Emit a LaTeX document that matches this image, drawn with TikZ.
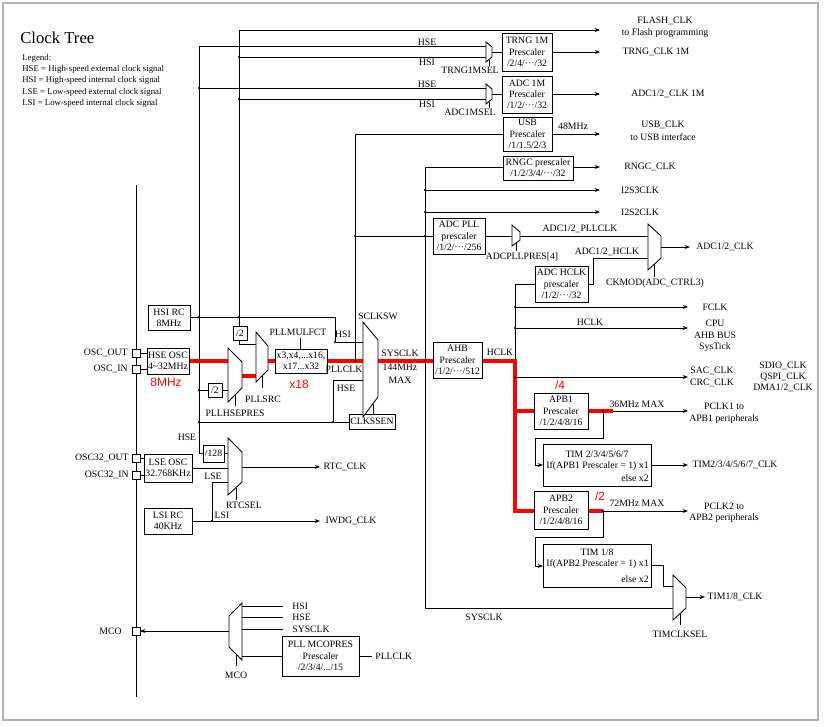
\documentclass[tikz,border=0pt]{standalone}
\usepackage{fontspec}
\setmainfont{Liberation Serif}
\newfontfamily\sansf{Liberation Sans}
\usetikzlibrary{arrows.meta}
\newcommand\fs{\fontsize{7.3}{8.4}\selectfont}
\newcommand\Bx[6]{\node[box,minimum width={(#4-#2)*0.75pt},minimum height={(#5-#3)*0.75pt}] (#1) at ({(#2+#4)/2},{(#3+#5)/2}) {#6};}
\newcommand\Mx[7]{\draw[mux] (#2,#3)--(#5,#6)--(#5,#7)--(#2,#4)--cycle; \coordinate (#1) at ({(#2+#5)/2},{(#3+#4)/2});}
\newcommand\Lb[3][]{\node[lbl,#1] at (#2) {#3};}
\begin{document}
\begin{tikzpicture}[x=0.75pt,y=-0.75pt,line width=0.55pt,
 box/.style={draw,line width=0.65pt,align=center,inner sep=0pt,font=\fs,fill=white},
 lbl/.style={font=\fs,inner sep=0pt,align=center},
 mux/.style={draw,line width=0.65pt,fill=white},
 arr/.style={-{Stealth[length=4pt,width=3pt]}},
 rd/.style={line width=3pt,red},
 rl/.style={font=\sansf\fontsize{9}{10}\selectfont,text=red,inner sep=0pt},
 dot/.style={circle,fill,inner sep=0pt,minimum size=1.8pt},
 pin/.style={draw,line width=0.65pt,fill=white,minimum size=6pt,inner sep=0pt}]
\useasboundingbox (0,0) rectangle (830,726);
\draw[gray!60,line width=1.5pt] (3,3) rectangle (818,720);
\node[anchor=west,font=\fontsize{12.5}{14}\selectfont,inner sep=0] (title) at (20,38) {Clock Tree};
\foreach \t/\y in {Legend:/58,HSE = High-speed external clock signal/69,HSI = High-speed internal clock signal/80,LSE = Low-speed external clock signal/92,LSI = Low-speed internal clock signal/103}
 \node[anchor=west,font=\fontsize{6.6}{7}\selectfont,inner sep=0] at (22,\y) {\t};
% pin bus
\draw (136,185)--(136,697);
\draw (136,353)--(147,353) (136,369)--(147,369) (136,458)--(144,458) (136,475)--(144,475);
% wires
\draw (199,46)--(199,453)--(203,453);
\draw (199,46)--(486,46) (199,88)--(486,88);
\draw[arr] (239,30)--(600,30);
\draw (239,30)--(239,326);
\draw (239,57)--(486,57) (239,99)--(486,99);
\draw (190,317)--(335,317)--(335,342)--(363,342);
\draw (355,134)--(503,134) (355,134)--(355,361) (355,236)--(433,236);
\draw (425,167)--(503,167) (425,167)--(425,608)--(673,608);
\draw[arr] (425,190)--(600,190);
\draw[arr] (425,212)--(600,212);
\draw (199,390)--(208,390) (222,390)--(228,390);
\draw (239,340)--(239,344)--(256,344);
\draw (300,338)--(300,349);
\draw (199,422)--(349,422) (333,422)--(333,380)--(363,380);
\draw (373,404)--(373,414);
\draw (235,395)--(235,406) (262,376)--(262,388) (236,488)--(236,500) (680,614)--(680,625)
      (654,264)--(654,277) (516,243)--(516,251) (489,60)--(489,66) (489,102)--(489,108) (236,653)--(236,666);
\draw (492,52)--(502,52) (492,94)--(502,94);
\draw[arr] (552,52)--(600,52);
\draw[arr] (552,94)--(600,94);
\draw[arr] (552,134)--(600,134);
\draw[arr] (573,167)--(600,167);
\draw (485,236)--(512,236) (520,236)--(648,236);
\draw (588,284)--(593,284)--(593,258)--(648,258);
\draw[arr] (661,247)--(690,247);
\draw (515,284)--(535,284) (515,284)--(515,361);
\draw[arr] (515,307)--(688,307);
\draw[arr] (515,328)--(688,328);
\draw[arr] (515,377)--(688,377);
\draw[arr] (613,411)--(688,411);
\draw[arr] (603,511)--(688,511);
\draw[arr] (603,411)--(603,438)--(535,438)--(535,465)--(543,465);
\draw[arr] (603,511)--(603,537)--(535,537)--(535,566)--(543,566);
\draw[arr] (651,465)--(688,465);
\draw (651,565)--(663,565)--(663,586)--(673,586);
\draw[arr] (686,597)--(705,597);
\draw (224,453)--(228,453) (192,468)--(228,468) (212,482)--(228,482) (212,482)--(212,521);
\draw[arr] (192,521)--(320,521);
\draw[arr] (242,467)--(320,467);
\draw[arr] (229,631)--(140,631);
\draw (242,606)--(283,606) (242,617)--(283,617) (242,629)--(283,629) (242,656)--(282,656) (359,656)--(372,656);
% red paths
\draw[rd] (189,361)--(228,361) (242,376)--(256,376) (268,361)--(275,361) (327,361)--(363,361) (378,361)--(433,361);
\draw[rd] (482,361)--(515,361)--(515,511)--(534,511) (515,411)--(534,411) (588,411)--(613,411) (588,511)--(603,511);
% dots
\foreach \p in {(199,317),(239,317),(239,57),(239,99),(199,88),(355,236),(425,236),(355,361),(425,361),(425,190),(425,212),(515,307),(515,328),(515,377),(603,411),(603,511),(333,422),(199,422),(199,390),(212,521),(335,342)}
 \node[dot] at \p {};
% pins
\node[pin] (osco) at (136,353) {};
\node[pin] (osci) at (136,369) {};
\node[pin] (o32o) at (136,458) {};
\node[pin] (o32i) at (136,475) {};
\node[pin] (mcop) at (136,631) {};
\Lb[anchor=east]{128,353}{OSC\_OUT}
\Lb[anchor=east]{128,369}{OSC\_IN}
\Lb[anchor=east]{129,458}{OSC32\_OUT}
\Lb[anchor=east]{129,475}{OSC32\_IN}
\Lb[anchor=east]{122,631}{MCO}
% boxes
\Bx{hsirc}{148}{305}{190}{330}{HSI RC\\8MHz}
\Bx{hseosc}{147}{348}{189}{374}{HSE OSC\\4\textasciitilde32MHz}
\Bx{lseosc}{144}{454}{192}{482}{LSE OSC\\32.768KHz}
\Bx{lsirc}{144}{508}{192}{534}{LSI RC\\40KHz}
\Bx{diva}{233}{326}{247}{340}{/2}
\Bx{divb}{208}{383}{222}{397}{/2}
\Bx{pll}{275}{349}{327}{373}{x3,x4,...x16,\\x17...x32}
\Bx{clkssen}{349}{414}{395}{429}{CLKSSEN}
\Bx{div128}{203}{445}{224}{462}{/128}
\Bx{mcopres}{282}{636}{359}{676}{PLL MCOPRES\\Prescaler\\/2/3/4/.../15}
\Bx{trng}{502}{33}{552}{71}{TRNG 1M\\Prescaler\\/2/4/···/32}
\Bx{adc1m}{502}{76}{552}{113}{ADC 1M\\Prescaler\\/1/2/···/32}
\Bx{usb}{503}{117}{552}{151}{USB\\Prescaler\\/1/1.5/2/3}
\Bx{rngc}{503}{156}{573}{180}{RNGC prescaler\\/1/2/3/4/···/32}
\Bx{adcpll}{433}{218}{485}{254}{ADC PLL\\prescaler\\/1/2/···/256}
\Bx{adchclk}{535}{266}{588}{302}{ADC HCLK\\prescaler\\/1/2/···/32}
\Bx{ahb}{433}{342}{482}{378}{AHB\\Prescaler\\/1/2/···/512}
\Bx{apb1}{534}{393}{588}{429}{APB1\\Prescaler\\/1/2/4/8/16}
\Bx{apb2}{534}{491}{588}{529}{APB2\\Prescaler\\/1/2/4/8/16}
\Bx{tim27}{543}{444}{651}{486}{}
\Bx{tim18}{543}{544}{651}{587}{}
\Lb{597,454}{TIM 2/3/4/5/6/7}
\Lb[anchor=east]{649,466}{If(APB1 Prescaler = 1) x1}
\Lb[anchor=east]{649,478}{else x2}
\Lb{597,552}{TIM 1/8}
\Lb[anchor=east]{649,564}{If(APB2 Prescaler = 1) x1}
\Lb[anchor=east]{649,579}{else x2}
% muxes
\Mx{trngsel}{486}{42}{62}{492}{47}{57}
\Mx{adcsel}{486}{84}{104}{492}{89}{99}
\Mx{hsepres}{228}{348}{402}{242}{362}{388}
\Mx{pllsrc}{256}{332}{382}{268}{346}{370}
\Mx{sclksw}{363}{322}{417}{378}{340}{397}
\Mx{adcpllpres}{512}{225}{246}{520}{232}{240}
\Mx{ckmod}{648}{224}{270}{661}{236}{258}
\Mx{rtcsel}{228}{438}{495}{242}{452}{482}
\Mx{timsel}{673}{575}{620}{686}{588}{608}
\Mx{mcosel}{229}{616}{647}{242}{603}{660}
% labels
\Lb{427,42}{HSE}\Lb{427,62}{HSI}\Lb{427,84}{HSE}\Lb{427,104}{HSI}
\Lb{470,70}{TRNG1MSEL}\Lb{470,112}{ADC1MSEL}
\Lb{665,21}{FLASH\_CLK}\Lb{665,33}{to Flash programming}
\Lb{656,52}{TRNG\_CLK 1M}\Lb{668,94}{ADC1/2\_CLK 1M}
\Lb{573,126}{48MHz}\Lb{663,125}{USB\_CLK}\Lb{663,137}{to USB interface}
\Lb{650,167}{RNGC\_CLK}\Lb{640,190}{I2S3CLK}\Lb{640,212}{I2S2CLK}
\Lb{580,229}{ADC1/2\_PLLCLK}\Lb{522,257}{ADCPLLPRES[4]}\Lb{607,252}{ADC1/2\_HCLK}
\Lb{725,247}{ADC1/2\_CLK}\Lb{655,283}{CKMOD(ADC\_CTRL3)}
\Lb{715,307}{FCLK}\Lb{590,322}{HCLK}\Lb{715,323}{CPU}\Lb{715,335}{AHB BUS}\Lb{715,347}{SysTick}
\Lb{500,352}{HCLK}
\Lb{712,371}{SAC\_CLK}\Lb{712,383}{CRC\_CLK}
\Lb{783,366}{SDIO\_CLK}\Lb{783,377}{QSPI\_CLK}\Lb{783,388}{DMA1/2\_CLK}
\Lb{637,404}{36MHz MAX}\Lb{724,406}{PCLK1 to}\Lb{724,419}{APB1 peripherals}
\Lb{735,465}{TIM2/3/4/5/6/7\_CLK}
\Lb{637,503}{72MHz MAX}\Lb{724,506}{PCLK2 to}\Lb{724,518}{APB2 peripherals}
\Lb{735,597}{TIM1/8\_CLK}\Lb{680,634}{TIMCLKSEL}\Lb{484,617}{SYSCLK}
\Lb{298,332}{PLLMULFCT}\Lb{263,399}{PLLSRC}\Lb{235,413}{PLLHSEPRES}
\Lb{378,316}{SCLKSW}\Lb{343,334}{HSI}\Lb{344,369}{PLLCLK}\Lb{346,388}{HSE}
\Lb{400,353}{SYSCLK}\Lb{400,367}{144MHz}\Lb{400,380}{MAX}
\Lb{187,437}{HSE}\Lb{213,476}{LSE}\Lb{244,505}{RTCSEL}\Lb{222,515}{LSI}
\Lb{345,467}{RTC\_CLK}\Lb{351,521}{IWDG\_CLK}
\Lb[anchor=west]{292,606}{HSI}\Lb[anchor=west]{292,617}{HSE}\Lb[anchor=west]{292,629}{SYSCLK}
\Lb{236,675}{MCO}\Lb[anchor=west]{375,656}{PLLCLK}
\node[rl] at (166,382) {8MHz};
\node[rl] at (299,384) {x18};
\node[rl] at (560,385) {/4};
\node[rl] at (600,496) {/2};
\end{tikzpicture}
\end{document}
